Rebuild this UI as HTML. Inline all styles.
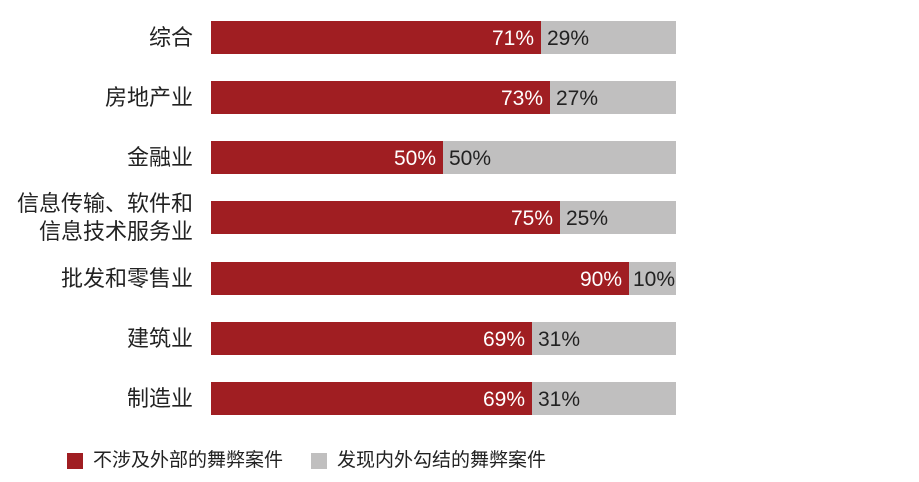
<!DOCTYPE html>
<html><head><meta charset="utf-8"><style>
body{margin:0;width:919px;height:482px;background:#fff;position:relative;overflow:hidden;font-family:"Liberation Sans","Noto Sans CJK SC",sans-serif;color:#222}
.l{position:absolute;right:726px;font-size:22px;text-align:right;line-height:28px;white-space:nowrap}
.b{position:absolute;left:211px;width:465px;height:33px;background:#c0bfbf}
.r{position:absolute;left:0;top:0;height:33px;background:#a01e22}
.p{position:absolute;top:0;line-height:36px;font-size:21px}
.w{color:#fff;text-align:right;padding-right:7px}
.sq{position:absolute;width:16px;height:16px;top:453px}
.lt{position:absolute;top:449px;font-size:19px;line-height:24px}
</style></head><body>
<div class="l" style="top:24px">综合</div>
<div class="l" style="top:84px">房地产业</div>
<div class="l" style="top:144px">金融业</div>
<div class="l" style="top:190px">信息传输、软件和<br>信息技术服务业</div>
<div class="l" style="top:265px">批发和零售业</div>
<div class="l" style="top:325px">建筑业</div>
<div class="l" style="top:385px">制造业</div>

<div class="b" style="top:21px"><div class="r" style="width:330px"></div><div class="p w" style="right:135px">71%</div><div class="p" style="left:336px">29%</div></div>
<div class="b" style="top:81px"><div class="r" style="width:339px"></div><div class="p w" style="right:126px">73%</div><div class="p" style="left:345px">27%</div></div>
<div class="b" style="top:141px"><div class="r" style="width:232px"></div><div class="p w" style="right:233px">50%</div><div class="p" style="left:238px">50%</div></div>
<div class="b" style="top:201px"><div class="r" style="width:349px"></div><div class="p w" style="right:116px">75%</div><div class="p" style="left:355px">25%</div></div>
<div class="b" style="top:262px"><div class="r" style="width:418px"></div><div class="p w" style="right:47px">90%</div><div class="p" style="left:422px">10%</div></div>
<div class="b" style="top:322px"><div class="r" style="width:321px"></div><div class="p w" style="right:144px">69%</div><div class="p" style="left:327px">31%</div></div>
<div class="b" style="top:382px"><div class="r" style="width:321px"></div><div class="p w" style="right:144px">69%</div><div class="p" style="left:327px">31%</div></div>

<div class="sq" style="left:67px;background:#a01e22"></div>
<div class="lt" style="left:93px">不涉及外部的舞弊案件</div>
<div class="sq" style="left:311px;background:#c0bfbf"></div>
<div class="lt" style="left:337px">发现内外勾结的舞弊案件</div>
</body></html>
